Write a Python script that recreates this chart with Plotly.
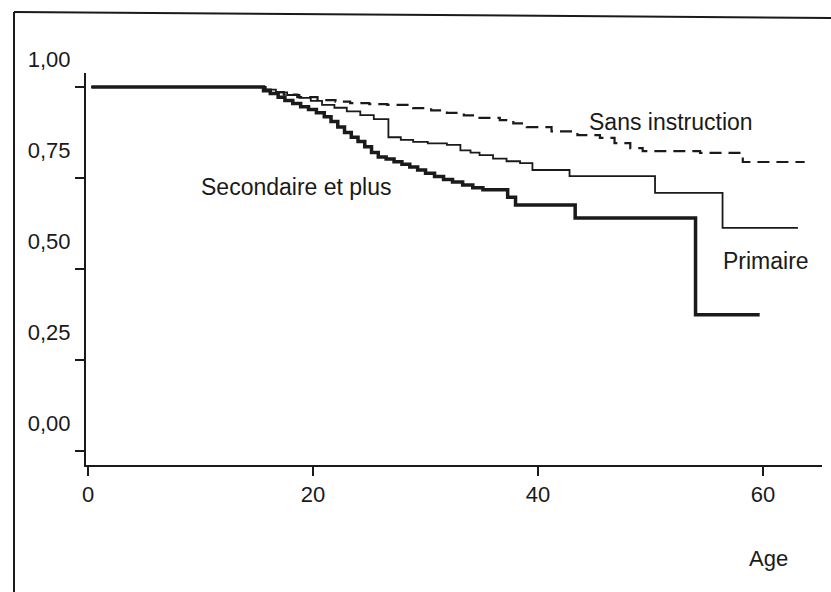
import plotly.graph_objects as go

# Kaplan-Meier style curves (age, proportion)
ages_sec = [0.3, 15.6, 16.2, 16.9, 17.5, 18.2, 18.9, 19.6, 20.3, 21.0, 21.6, 22.2, 22.8, 23.4,
            24.0, 24.6, 25.2, 25.8, 26.5, 27.2, 27.9, 28.6, 29.3, 30.0, 30.8, 31.6, 32.4, 33.3,
            34.2, 35.1, 37.3, 38.0, 43.3, 54.0, 59.7]
surv_sec = [1.0, 0.99, 0.982, 0.972, 0.963, 0.955, 0.946, 0.938, 0.929, 0.918, 0.905, 0.89, 0.875, 0.862,
            0.85, 0.836, 0.82, 0.808, 0.802, 0.795, 0.788, 0.78, 0.772, 0.763, 0.754, 0.746, 0.739, 0.731,
            0.723, 0.718, 0.697, 0.676, 0.640, 0.374, 0.374]

ages_pri = [0.3, 15.8, 16.7, 17.7, 18.8, 19.8, 20.8, 21.9, 23.0, 24.2, 25.4, 26.7, 27.8, 28.9,
            30.2, 31.9, 33.1, 34.0, 34.8, 36.0, 37.2, 38.4, 39.5, 42.8, 50.4, 56.4, 63.1]
surv_pri = [1.0, 0.993, 0.985, 0.978, 0.97, 0.962, 0.951, 0.943, 0.933, 0.923, 0.912, 0.862, 0.855, 0.849,
            0.845, 0.841, 0.826, 0.82, 0.813, 0.803, 0.796, 0.791, 0.772, 0.755, 0.709, 0.613, 0.613]

ages_sans = [0.3, 15.7, 16.4, 17.4, 18.6, 20.4, 22.0, 23.3, 25.0, 26.6, 28.9, 30.5, 31.9, 33.4,
             34.8, 36.6, 37.8, 39.0, 41.2, 43.5, 45.5, 46.8, 48.2, 49.3, 54.4, 58.0, 58.2, 63.7]
surv_sans = [1.0, 0.993, 0.986, 0.979, 0.972, 0.964, 0.96, 0.956, 0.953, 0.951, 0.942, 0.936, 0.929, 0.922,
             0.915, 0.909, 0.9, 0.89, 0.878, 0.868, 0.86, 0.846, 0.832, 0.824, 0.819, 0.808, 0.794, 0.794]

x_ticks = [0, 20, 40, 60]
y_ticks = [0.0, 0.25, 0.5, 0.75, 1.0]
y_tick_labels = ["0,00", "0,25", "0,50", "0,75", "1,00"]

INK = "#1a1a1a"
FONT = "Liberation Sans, Arial, Helvetica, sans-serif"

fig = go.Figure()
fig.add_trace(go.Scatter(x=ages_sans, y=surv_sans, mode="lines", line_shape="hv",
                         line=dict(color=INK, width=2.2, dash="12px,7px"), name="Sans instruction"))
fig.add_trace(go.Scatter(x=ages_pri, y=surv_pri, mode="lines", line_shape="hv",
                         line=dict(color=INK, width=1.8), name="Primaire"))
fig.add_trace(go.Scatter(x=ages_sec, y=surv_sec, mode="lines", line_shape="hv",
                         line=dict(color=INK, width=3.5), name="Secondaire et plus"))

annos = [
    dict(text="Sans instruction", x=51.8, y=0.903),
    dict(text="Secondaire et plus", x=18.5, y=0.725),
    dict(text="Primaire", x=60.3, y=0.521),
]
for a in annos:
    fig.add_annotation(x=a["x"], y=a["y"], text=a["text"], showarrow=False,
                       xref="x", yref="y", xanchor="center", yanchor="middle",
                       font=dict(size=23, color=INK, family=FONT))

fig.add_annotation(x=(768 - 86) / 736, y=(465 - 558) / 392, xref="paper", yref="paper",
                   xanchor="center", yanchor="middle",
                   text="Age", showarrow=False, font=dict(size=22, color=INK, family=FONT))

# outer frame of the scanned figure
fig.add_shape(type="line", xref="paper", yref="paper",
              x0=(14 - 86) / 736, y0=(465 - 12) / 392, x1=(14 - 86) / 736, y1=(465 - 600) / 392,
              line=dict(color=INK, width=2))
fig.add_shape(type="line", xref="paper", yref="paper",
              x0=(14 - 86) / 736, y0=(465 - 12) / 392, x1=(835 - 86) / 736, y1=(465 - 18) / 392,
              line=dict(color=INK, width=2))

fig.update_layout(
    width=831, height=592,
    margin=dict(l=86, r=9, t=73, b=127),
    paper_bgcolor="white", plot_bgcolor="white",
    showlegend=False,
    font=dict(family=FONT, size=22, color=INK),
    xaxis=dict(range=[-0.18, 65.24], tickvals=x_ticks, ticktext=[str(v) for v in x_ticks],
               showgrid=False, zeroline=False, showline=True, linecolor=INK, linewidth=2,
               ticks="outside", ticklen=9, tickwidth=2, tickcolor=INK,
               tickfont=dict(size=22, family=FONT, color=INK)),
    yaxis=dict(range=[-0.0385, 1.0385], tickvals=y_ticks, ticktext=y_tick_labels,
               showgrid=False, zeroline=False, showline=True, linecolor=INK, linewidth=2,
               ticks="outside", ticklen=9, tickwidth=2, tickcolor=INK,
               ticklabelshift=-28,
               tickfont=dict(size=22, family=FONT, color=INK)),
)

fig.write_html("out.html")
